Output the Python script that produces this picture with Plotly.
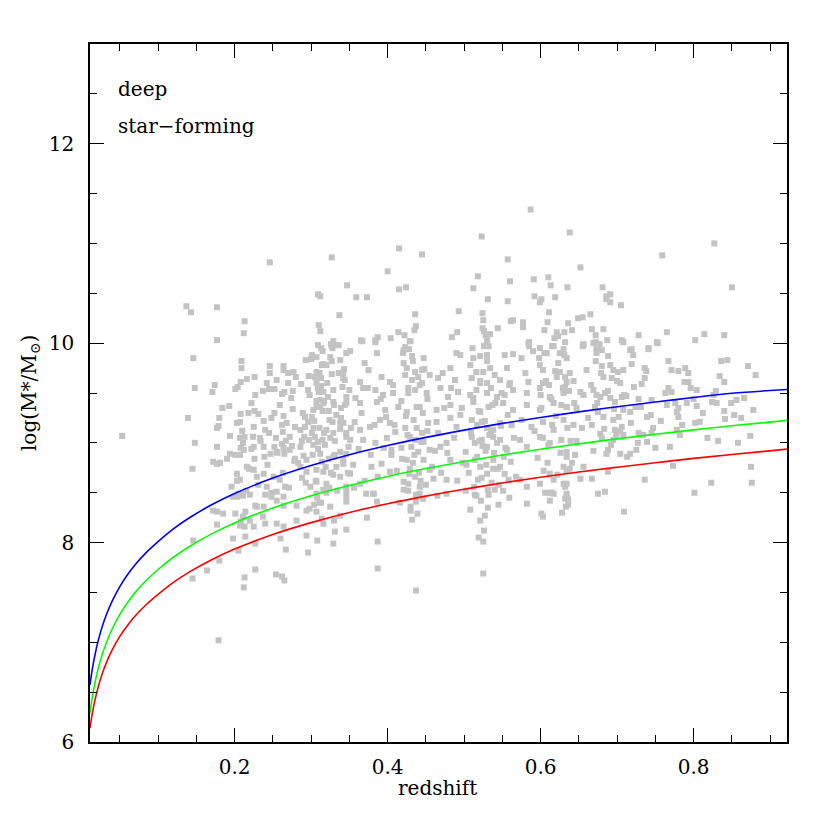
import plotly.graph_objects as go

# mass-completeness curves
curve_z = [0.011, 0.013, 0.015, 0.018, 0.022, 0.027, 0.033, 0.04, 0.05, 0.06, 0.07, 0.085, 0.1,
           0.12, 0.14, 0.17, 0.2, 0.25, 0.3, 0.35, 0.4, 0.45, 0.5, 0.55, 0.6, 0.65, 0.7, 0.75,
           0.8, 0.85, 0.922]
blue_m = [6.572, 6.681, 6.774, 6.893, 7.024, 7.157, 7.288, 7.413, 7.559, 7.677, 7.778, 7.904, 8.010,
          8.137, 8.244, 8.379, 8.492, 8.647, 8.773, 8.881, 8.973, 9.055, 9.128, 9.195, 9.255, 9.311,
          9.362, 9.410, 9.455, 9.497, 9.535]
green_m = [6.292, 6.401, 6.494, 6.613, 6.744, 6.877, 7.008, 7.133, 7.279, 7.397, 7.498, 7.624, 7.730,
           7.853, 7.956, 8.087, 8.197, 8.347, 8.470, 8.573, 8.663, 8.742, 8.813, 8.878, 8.936, 8.990,
           9.040, 9.086, 9.130, 9.171, 9.225]
red_m = [6.138, 6.239, 6.327, 6.437, 6.559, 6.684, 6.806, 6.923, 7.059, 7.169, 7.263, 7.381, 7.480,
         7.600, 7.701, 7.828, 7.935, 8.081, 8.200, 8.302, 8.389, 8.466, 8.535, 8.598, 8.655, 8.707,
         8.756, 8.801, 8.844, 8.883, 8.937]

# star-forming galaxies (redshift, log stellar mass)
gal_z = [
    0.246, 0.327, 0.347, 0.309, 0.312, 0.137, 0.143, 0.177, 0.337, 0.213, 0.212, 0.177, 0.310, 0.312, 0.309, 0.329, 0.336, 0.327,
    0.587, 0.523, 0.638, 0.415, 0.445, 0.400, 0.557, 0.518, 0.560, 0.591, 0.610, 0.613, 0.635, 0.512, 0.415, 0.424, 0.359, 0.373,
    0.531, 0.557, 0.592, 0.601, 0.599, 0.619, 0.493, 0.436, 0.524, 0.611, 0.525, 0.561, 0.564, 0.577, 0.577, 0.609, 0.636, 0.437,
    0.435, 0.544, 0.524, 0.526, 0.605, 0.621, 0.623, 0.631, 0.414, 0.422, 0.387, 0.384, 0.404, 0.365, 0.367, 0.430, 0.491, 0.484,
    0.528, 0.534, 0.530, 0.526, 0.532, 0.585, 0.585, 0.615, 0.632, 0.423, 0.428, 0.511,
    0.827, 0.759, 0.652, 0.681, 0.850, 0.686, 0.691, 0.691, 0.686, 0.705, 0.665, 0.649, 0.655, 0.641, 0.667, 0.682, 0.672, 0.656,
    0.655, 0.672, 0.677, 0.687, 0.706, 0.708, 0.728, 0.765, 0.753, 0.802, 0.814, 0.840, 0.719, 0.741, 0.630, 0.673,
    0.146, 0.209, 0.209, 0.246, 0.264, 0.264, 0.293, 0.300, 0.307, 0.326, 0.333, 0.328, 0.346, 0.325, 0.338, 0.320, 0.316,
    0.226, 0.216, 0.208, 0.148, 0.174, 0.171, 0.201, 0.204, 0.227, 0.237, 0.252, 0.262, 0.265, 0.270, 0.280, 0.276, 0.287,
    0.297, 0.296, 0.307, 0.311, 0.313, 0.307, 0.313, 0.310, 0.316, 0.327, 0.336, 0.342, 0.329, 0.341, 0.350, 0.346, 0.317,
    0.307, 0.329, 0.339, 0.346, 0.245, 0.252, 0.264, 0.268, 0.262, 0.276, 0.226, 0.218, 0.208, 0.231, 0.184, 0.193, 0.139,
    0.180, 0.177, 0.179, 0.203, 0.207, 0.238, 0.240, 0.225, 0.194, 0.207, 0.213, 0.211, 0.208, 0.212, 0.222, 0.225, 0.148,
    0.053, 0.177, 0.238, 0.252, 0.247, 0.239, 0.264, 0.275, 0.265, 0.288, 0.291, 0.297, 0.301, 0.303, 0.296, 0.292, 0.305,
    0.309, 0.309, 0.292, 0.286, 0.279, 0.301, 0.303, 0.307, 0.312, 0.316, 0.312, 0.323, 0.324, 0.328, 0.333, 0.338, 0.320,
    0.329, 0.325, 0.315, 0.312, 0.323, 0.314, 0.331, 0.338, 0.346, 0.342, 0.333, 0.294, 0.286, 0.294, 0.307, 0.316, 0.329,
    0.338, 0.351, 0.288, 0.307, 0.316, 0.320, 0.299, 0.259, 0.266, 0.255, 0.248, 0.264, 0.238, 0.242, 0.229, 0.225, 0.216,
    0.203, 0.207, 0.196, 0.205, 0.198, 0.211, 0.177, 0.172, 0.181, 0.194, 0.201, 0.190, 0.145, 0.224, 0.233, 0.263, 0.272,
    0.245, 0.254, 0.262, 0.255, 0.272, 0.286, 0.279, 0.290, 0.338, 0.346, 0.351, 0.349, 0.242, 0.255, 0.246, 0.270, 0.277,
    0.351, 0.315,
    0.366, 0.384, 0.429, 0.529, 0.584, 0.599, 0.617, 0.386, 0.421, 0.432, 0.447, 0.490, 0.495, 0.512, 0.521, 0.530, 0.553,
    0.564, 0.575, 0.590, 0.608, 0.625, 0.634, 0.342, 0.370, 0.375, 0.421, 0.425, 0.436, 0.445, 0.482, 0.508, 0.516, 0.525,
    0.534, 0.556, 0.580, 0.599, 0.603, 0.625, 0.344, 0.364, 0.392, 0.403, 0.407, 0.432, 0.440, 0.445, 0.455, 0.466, 0.488,
    0.510, 0.521, 0.530, 0.547, 0.560, 0.584, 0.603, 0.621, 0.368, 0.384, 0.394, 0.407, 0.427, 0.436, 0.451, 0.469, 0.479,
    0.492, 0.508, 0.516, 0.530, 0.543, 0.553, 0.564, 0.582, 0.599, 0.612, 0.630, 0.344, 0.364, 0.386, 0.397, 0.414, 0.425,
    0.442, 0.464, 0.482, 0.497, 0.512, 0.521, 0.532, 0.551, 0.564, 0.582, 0.599, 0.617, 0.634, 0.342, 0.357, 0.364, 0.377,
    0.390, 0.403, 0.410, 0.423, 0.434, 0.438, 0.445, 0.453, 0.464, 0.482, 0.490, 0.510, 0.517, 0.523, 0.530, 0.538, 0.547,
    0.562, 0.575, 0.588, 0.603, 0.617, 0.630, 0.346, 0.368, 0.384, 0.399, 0.405, 0.429, 0.436, 0.431, 0.440, 0.447, 0.455,
    0.469, 0.477, 0.510, 0.514, 0.523, 0.530, 0.538, 0.547, 0.556, 0.573, 0.582, 0.599, 0.612, 0.627, 0.342, 0.355, 0.379,
    0.392, 0.403, 0.425, 0.429, 0.436, 0.442, 0.427, 0.455, 0.460, 0.477, 0.482, 0.503, 0.514, 0.521, 0.518, 0.530, 0.538,
    0.547, 0.553, 0.558, 0.540, 0.573, 0.582, 0.599, 0.612, 0.617, 0.630, 0.634, 0.346, 0.364, 0.381, 0.421, 0.477, 0.514,
    0.656, 0.669, 0.673, 0.680, 0.688, 0.717, 0.721, 0.741, 0.752, 0.672, 0.680, 0.691, 0.695, 0.701, 0.708, 0.719, 0.736,
    0.767, 0.771, 0.780, 0.789, 0.793, 0.836, 0.844, 0.871, 0.881, 0.834, 0.840, 0.632, 0.634, 0.632, 0.660, 0.682, 0.693,
    0.704, 0.732, 0.736, 0.767, 0.771, 0.788, 0.793, 0.804, 0.826, 0.630, 0.652, 0.656, 0.669, 0.673, 0.678, 0.684, 0.691,
    0.697, 0.706, 0.712, 0.728, 0.745, 0.765, 0.780, 0.791, 0.800, 0.804, 0.824, 0.830, 0.849, 0.856, 0.878, 0.840, 0.634,
    0.647, 0.671, 0.675, 0.682, 0.695, 0.702, 0.708, 0.717, 0.724, 0.739, 0.778, 0.780, 0.841, 0.862, 0.643, 0.654, 0.667,
    0.678, 0.680, 0.697, 0.699, 0.695, 0.706, 0.708, 0.728, 0.734, 0.739, 0.747, 0.745, 0.778, 0.782, 0.802, 0.808, 0.832,
    0.874, 0.704, 0.717, 0.725, 0.688, 0.686, 0.634, 0.634, 0.638, 0.656, 0.688, 0.652, 0.667, 0.736, 0.773, 0.823, 0.875,
    0.876, 0.801, 0.675, 0.684, 0.634, 0.630, 0.634,
    0.172, 0.177, 0.185, 0.201, 0.214, 0.211, 0.208, 0.207, 0.213, 0.220, 0.225, 0.229, 0.227, 0.240, 0.248, 0.264, 0.255,
    0.281, 0.294, 0.240, 0.255, 0.264, 0.146, 0.177, 0.198, 0.205, 0.214, 0.227, 0.180, 0.164, 0.145, 0.227, 0.213, 0.212,
    0.254, 0.262, 0.265, 0.267, 0.260, 0.281, 0.294, 0.296, 0.179, 0.203, 0.211, 0.220, 0.237,
    0.307, 0.320, 0.346, 0.346, 0.346, 0.372, 0.382, 0.386, 0.427, 0.442, 0.437, 0.465, 0.502, 0.516, 0.531, 0.559, 0.582,
    0.601, 0.603, 0.613, 0.298, 0.304, 0.313, 0.307, 0.325, 0.338, 0.314, 0.316, 0.330, 0.331, 0.346, 0.373, 0.430, 0.432,
    0.521, 0.308, 0.329, 0.387, 0.387, 0.525, 0.525, 0.437,
    0.614, 0.632, 0.636, 0.633, 0.709,
]
gal_logm = [
    10.81, 10.86, 10.58, 10.49, 10.47, 10.37, 10.31, 10.36, 10.28, 10.22, 10.10, 10.03, 10.18, 10.12, 9.98, 10.02, 9.98, 9.97,
    11.34, 11.07, 11.11, 10.95, 10.89, 10.72, 10.84, 10.67, 10.62, 10.64, 10.66, 10.58, 10.56, 10.55, 10.54, 10.56, 10.46, 10.46,
    10.44, 10.42, 10.47, 10.44, 10.41, 10.46, 10.32, 10.29, 10.30, 10.31, 10.23, 10.22, 10.23, 10.21, 10.16, 10.21, 10.20, 10.17,
    10.13, 10.15, 10.15, 10.12, 10.13, 10.11, 10.07, 10.11, 10.11, 10.08, 10.06, 10.03, 10.05, 10.03, 10.02, 10.02, 10.11, 10.06,
    10.08, 10.09, 10.03, 9.97, 9.97, 10.01, 9.97, 9.97, 10.01, 9.96, 9.94, 9.95,
    11.00, 10.88, 10.76, 10.56, 10.56, 10.47, 10.49, 10.41, 10.44, 10.38, 10.29, 10.25, 10.26, 10.13, 10.14, 10.14, 10.08, 9.99,
    9.97, 10.01, 9.99, 10.03, 10.03, 10.01, 10.08, 10.11, 10.00, 10.03, 10.09, 10.08, 9.94, 9.95, 9.94, 9.94,
    9.85, 9.82, 9.75, 9.77, 9.77, 9.73, 9.83, 9.84, 9.86, 9.99, 9.98, 9.95, 9.90, 9.86, 9.83, 9.78, 9.79,
    9.66, 9.64, 9.61, 9.55, 9.58, 9.51, 9.54, 9.56, 9.48, 9.52, 9.54, 9.49, 9.51, 9.60, 9.66, 9.52, 9.59,
    9.67, 9.53, 9.71, 9.70, 9.65, 9.60, 9.57, 9.51, 9.51, 9.69, 9.70, 9.65, 9.53, 9.56, 9.53, 9.46, 9.42,
    9.42, 9.41, 9.35, 9.40, 9.54, 9.30, 9.27, 9.20, 9.18, 9.34, 9.32, 9.30, 9.29, 9.29, 9.35, 9.37, 9.25,
    9.25, 9.15, 9.17, 9.20, 9.21, 9.22, 9.13, 9.16, 9.07, 9.05, 9.06, 9.00, 8.95, 8.93, 8.94, 8.96, 9.00,
    9.07, 8.96, 8.96, 8.96, 8.89, 8.86, 8.95, 8.97, 8.89, 9.02, 9.06, 9.03, 9.10, 9.15, 9.21, 9.26, 9.06,
    9.01, 8.94, 9.16, 9.13, 9.16, 9.26, 9.33, 9.36, 9.36, 9.40, 9.43, 9.32, 9.23, 9.21, 9.28, 9.20, 9.13,
    9.10, 9.05, 9.03, 8.89, 8.84, 8.81, 8.88, 8.91, 8.89, 8.79, 8.76, 8.83, 8.76, 8.71, 8.73, 8.71, 8.68,
    8.66, 8.69, 8.65, 8.61, 8.53, 8.59, 8.56, 8.63, 8.56, 8.51, 8.46, 8.46, 8.69, 8.56, 8.66, 8.73, 8.76,
    8.69, 8.63, 8.56, 8.49, 8.46, 8.47, 8.79, 8.81, 8.80, 8.89, 8.88, 8.84, 8.74, 9.06, 9.05, 9.11, 9.06,
    9.10, 9.05, 8.99, 8.91, 8.93, 8.96, 8.84, 8.87, 9.14, 9.10, 9.03, 8.96, 9.60, 9.63, 9.70, 9.70, 9.71,
    9.92, 9.92,
    10.02, 10.01, 10.02, 9.98, 10.00, 9.95, 9.97, 9.90, 9.93, 9.87, 9.85, 9.90, 9.88, 9.85, 9.87, 9.88, 9.88,
    9.89, 9.85, 9.92, 9.90, 9.90, 9.85, 9.71, 9.80, 9.73, 9.80, 9.75, 9.71, 9.73, 9.75, 9.78, 9.71, 9.71,
    9.75, 9.75, 9.70, 9.78, 9.73, 9.71, 9.63, 9.61, 9.66, 9.61, 9.58, 9.63, 9.66, 9.60, 9.68, 9.65, 9.63,
    9.65, 9.60, 9.60, 9.63, 9.60, 9.61, 9.60, 9.66, 9.55, 9.53, 9.48, 9.50, 9.55, 9.53, 9.50, 9.55, 9.46,
    9.51, 9.48, 9.53, 9.50, 9.46, 9.48, 9.53, 9.50, 9.55, 9.46, 9.53, 9.38, 9.40, 9.41, 9.33, 9.36, 9.31,
    9.36, 9.33, 9.38, 9.35, 9.41, 9.31, 9.36, 9.40, 9.33, 9.38, 9.33, 9.40, 9.36, 9.20, 9.21, 9.13, 9.16,
    9.23, 9.20, 9.11, 9.15, 9.23, 9.15, 9.10, 9.20, 9.21, 9.25, 9.16, 9.23, 9.18, 9.21, 9.15, 9.13, 9.20,
    9.18, 9.23, 9.16, 9.21, 9.13, 9.23, 9.06, 9.03, 9.00, 9.05, 8.93, 9.06, 9.03, 8.96, 8.91, 9.01, 8.93,
    8.96, 9.00, 9.06, 9.00, 9.03, 8.96, 9.06, 9.03, 8.93, 9.03, 8.96, 9.06, 9.00, 9.03, 8.83, 8.78, 8.76,
    8.79, 8.71, 8.83, 8.74, 8.66, 8.56, 8.59, 8.73, 8.64, 8.63, 8.83, 8.78, 8.83, 8.76, 8.63, 8.69, 8.83,
    8.76, 8.69, 8.63, 8.53, 8.63, 8.56, 8.59, 8.69, 8.49, 8.76, 8.59, 8.56, 8.59, 8.49, 8.53, 8.49, 8.48,
    9.98, 10.00, 9.90, 9.93, 9.87, 9.93, 9.88, 9.94, 10.01, 9.82, 9.77, 9.78, 9.73, 9.71, 9.73, 9.79, 9.75,
    9.82, 9.73, 9.72, 9.75, 9.70, 9.82, 9.83, 9.77, 9.68, 9.67, 9.61, 9.66, 9.61, 9.56, 9.73, 9.66, 9.65,
    9.60, 9.59, 9.65, 9.55, 9.51, 9.61, 9.61, 9.53, 9.48, 9.50, 9.51, 9.48, 9.53, 9.48, 9.46, 9.50, 9.45,
    9.41, 9.46, 9.47, 9.44, 9.43, 9.38, 9.35, 9.40, 9.44, 9.37, 9.41, 9.40, 9.40, 9.43, 9.33, 9.32, 9.36,
    9.35, 9.36, 9.31, 9.26, 9.23, 9.26, 9.33, 9.31, 9.36, 9.26, 9.31, 9.26, 9.24, 9.25, 9.18, 9.15, 9.18,
    9.09, 9.05, 9.13, 9.08, 9.03, 9.16, 9.08, 9.10, 9.08, 9.01, 9.15, 9.10, 9.13, 9.08, 9.20, 9.21, 9.02,
    9.07, 8.89, 8.89, 8.93, 8.93, 8.89, 8.91, 8.86, 8.74, 8.76, 8.71, 8.64, 8.64, 8.63, 8.77, 8.60, 8.76,
    8.60, 8.50, 8.49, 8.51, 8.49, 8.59, 8.46,
    8.32, 8.31, 8.29, 8.29, 8.31, 8.26, 8.21, 8.17, 8.16, 8.22, 8.16, 8.36, 8.37, 8.48, 8.50, 8.37, 8.42,
    8.37, 8.32, 8.19, 8.19, 8.16, 8.02, 8.18, 8.04, 7.92, 8.06, 7.99, 7.82, 7.72, 7.64, 7.73, 7.65, 7.55,
    7.68, 7.66, 7.62, 7.93, 8.04, 8.22, 8.07, 7.90, 7.02, 8.46, 8.49, 8.48, 8.26,
    8.49, 8.50, 8.51, 8.46, 8.41, 8.49, 8.49, 8.41, 8.52, 8.49, 8.41, 8.47, 8.52, 8.47, 8.53, 8.45, 8.39,
    8.29, 8.26, 8.50, 8.34, 8.38, 8.40, 8.31, 8.36, 8.27, 8.24, 8.19, 8.22, 8.11, 8.13, 8.25, 8.32, 8.23,
    8.22, 8.02, 7.99, 8.01, 7.74, 8.01, 7.69, 7.52,
    8.50, 8.44, 8.43, 8.36, 8.31,
]

# crowded core of the cloud, estimated more loosely
core_z = [
    0.405, 0.412, 0.418, 0.421, 0.426, 0.433, 0.437, 0.441, 0.444, 0.447, 0.450, 0.452, 0.458, 0.462, 0.416, 0.430, 0.439, 0.446,
    0.409, 0.424, 0.435, 0.443, 0.428, 0.419,
    0.502, 0.506, 0.509, 0.513, 0.517, 0.519, 0.522, 0.524, 0.527, 0.529, 0.533, 0.536, 0.539, 0.541, 0.544, 0.548, 0.551, 0.554,
    0.557, 0.561, 0.565, 0.568, 0.526, 0.531, 0.519, 0.545, 0.512, 0.535, 0.559, 0.508,
    0.592, 0.596, 0.601, 0.604, 0.607, 0.610, 0.614, 0.617, 0.620, 0.623, 0.626, 0.629, 0.632, 0.635, 0.638, 0.641, 0.644, 0.647,
    0.612, 0.628, 0.636, 0.598, 0.618, 0.606,
    0.662, 0.666, 0.669, 0.674, 0.679, 0.683, 0.688, 0.692, 0.696, 0.700, 0.704, 0.709, 0.713, 0.718, 0.722, 0.727, 0.731, 0.738,
    0.744, 0.750,
    0.203, 0.207, 0.210, 0.215, 0.219, 0.222, 0.226, 0.231, 0.234, 0.238, 0.243, 0.248, 0.251, 0.256, 0.259, 0.263, 0.267, 0.271,
    0.274, 0.278,
    0.283, 0.289, 0.293, 0.298, 0.302, 0.305, 0.308, 0.311, 0.314, 0.318, 0.321, 0.326, 0.330, 0.334, 0.339, 0.343, 0.348, 0.352,
    0.356, 0.358,
    0.362, 0.366, 0.370, 0.374, 0.378, 0.383, 0.387, 0.391, 0.395, 0.398,
    0.466, 0.470, 0.474, 0.478, 0.483, 0.487, 0.491, 0.495, 0.498, 0.472,
    0.757, 0.763, 0.769, 0.776, 0.785, 0.796, 0.812, 0.818, 0.829, 0.853, 0.866, 0.858,
    0.301, 0.304, 0.306, 0.309, 0.311, 0.313, 0.317, 0.319, 0.322, 0.324, 0.327, 0.331, 0.303, 0.315, 0.329,
    0.521, 0.523, 0.527, 0.530, 0.532, 0.535, 0.538, 0.540, 0.543, 0.546, 0.549, 0.552, 0.520, 0.528, 0.537,
    0.600, 0.603, 0.605, 0.609, 0.611, 0.615, 0.619, 0.622, 0.627, 0.631, 0.634, 0.637, 0.639, 0.643, 0.645,
    0.418, 0.423, 0.427, 0.433, 0.438, 0.442, 0.448, 0.452, 0.420, 0.446,
]
core_logm = [
    8.88, 8.72, 8.95, 8.61, 9.08, 8.80, 8.48, 8.70, 9.01, 8.83, 8.58, 9.12, 8.76, 8.92, 8.40, 8.36, 8.29, 8.44,
    9.18, 9.27, 8.88, 8.62, 8.69, 8.84,
    8.91, 8.70, 9.10, 8.56, 8.86, 9.32, 8.42, 8.97, 8.27, 8.78, 9.08, 8.60, 8.90, 9.40, 8.74, 9.17, 8.52, 8.95,
    9.28, 8.81, 9.05, 8.66, 8.12, 8.35, 8.05, 8.38, 9.45, 9.55, 9.58, 8.33,
    9.12, 8.85, 9.35, 8.72, 9.62, 8.98, 9.44, 8.63, 9.27, 9.80, 8.90, 9.55, 8.56, 9.15, 9.70, 8.80, 9.40, 9.02,
    8.42, 8.30, 8.38, 9.85, 10.05, 8.50,
    9.25, 9.58, 8.92, 9.40, 9.70, 9.14, 9.52, 8.98, 9.34, 9.62, 9.12, 9.48, 8.86, 9.20, 9.56, 9.00, 9.36, 9.72,
    9.28, 8.95,
    8.62, 8.88, 9.12, 8.52, 8.74, 9.40, 8.84, 8.58, 9.02, 8.36, 8.78, 9.25, 8.66, 8.90, 9.38, 8.70, 9.02, 8.55,
    9.45, 8.82,
    8.80, 9.30, 8.60, 9.48, 8.88, 9.66, 8.45, 9.15, 9.78, 8.98, 9.60, 8.70, 9.38, 8.52, 9.25, 9.74, 8.70, 9.15,
    8.55, 9.45,
    8.94, 9.30, 8.62, 9.55, 8.88, 9.18, 8.66, 9.44, 8.95, 9.26,
    9.10, 8.70, 9.35, 8.90, 9.55, 9.05, 8.62, 9.28, 8.80, 9.70,
    9.22, 9.50, 8.96, 9.40, 9.18, 9.55, 9.30, 9.05, 9.52, 9.28, 9.45, 9.00,
    9.88, 9.22, 8.62, 9.55, 8.40, 9.95, 9.10, 8.76, 9.46, 8.55, 9.82, 9.02, 8.98, 9.32, 8.86,
    9.62, 8.65, 9.22, 9.82, 8.48, 9.12, 8.74, 9.68, 9.00, 8.58, 9.50, 8.86, 9.02, 8.92, 9.38,
    9.48, 9.05, 9.90, 8.80, 9.58, 9.18, 9.72, 8.68, 9.38, 9.88, 8.72, 9.52, 9.02, 9.62, 8.88,
    9.42, 9.68, 9.50, 9.82, 9.36, 9.58, 9.74, 9.44, 9.90, 9.30,
]

fig = go.Figure()

fig.add_trace(go.Scatter(
    x=gal_z + core_z, y=gal_logm + core_logm, mode='markers',
    marker=dict(symbol='square', size=6, color='#c3c3c3', line=dict(width=0)),
    showlegend=False, hoverinfo='skip'
))

for ms, col in [(blue_m, '#0000ff'), (green_m, '#00ff00'), (red_m, '#ff0000')]:
    fig.add_trace(go.Scatter(
        x=curve_z, y=ms, mode='lines', line=dict(color=col, width=1.6, shape='spline', smoothing=1.0),
        showlegend=False, hoverinfo='skip'
    ))

font = 'DejaVu Serif'
axis_common = dict(
    showline=True, linecolor='black', linewidth=1.5, mirror='allticks',
    ticks='inside', tickcolor='black', tickwidth=1.1, ticklen=14,
    showgrid=False, zeroline=False,
    tickfont=dict(family=font, size=20, color='black'),
)

fig.update_xaxes(
    range=[0.011, 0.922], tickvals=[0.2, 0.4, 0.6, 0.8], ticktext=['0.2', '0.4', '0.6', '0.8'],
    minor=dict(ticks='inside', ticklen=7, dtick=0.05, tick0=0, tickcolor='black', tickwidth=1.1, showgrid=False),
    ticklabelstandoff=6,
    **axis_common
)
fig.update_yaxes(
    range=[6, 13], tickvals=[6, 8, 10, 12], ticktext=['6', '8', '10', '12'],
    minor=dict(ticks='inside', ticklen=7, dtick=0.5, tick0=6, tickcolor='black', tickwidth=1.1, showgrid=False),
    ticklabelstandoff=10,
    **axis_common
)

txt = dict(family=font, size=20, color='black')
fig.add_annotation(text='redshift', xref='paper', yref='paper', x=0.498, y=-0.066,
                   xanchor='center', yanchor='middle', showarrow=False, font=txt)
fig.add_annotation(text='log(M*/M<sub>⊙</sub>)', xref='paper', yref='paper', x=-0.086, y=0.5,
                   xanchor='center', yanchor='middle', showarrow=False, textangle=-90, font=txt)
fig.add_annotation(text='deep', xref='paper', yref='paper', x=0.037, y=0.9355,
                   xanchor='left', yanchor='middle', showarrow=False, font=txt)
fig.add_annotation(text='star−forming', xref='paper', yref='paper', x=0.037, y=0.8825,
                   xanchor='left', yanchor='middle', showarrow=False, font=txt)

# the page body adds an 8px offset, so the figure is 814px and margins are shifted by 8
fig.update_layout(
    width=814, height=814,
    margin=dict(l=82, r=35, t=36, b=80),
    plot_bgcolor='white', paper_bgcolor='white',
)

fig.write_html("out.html")
